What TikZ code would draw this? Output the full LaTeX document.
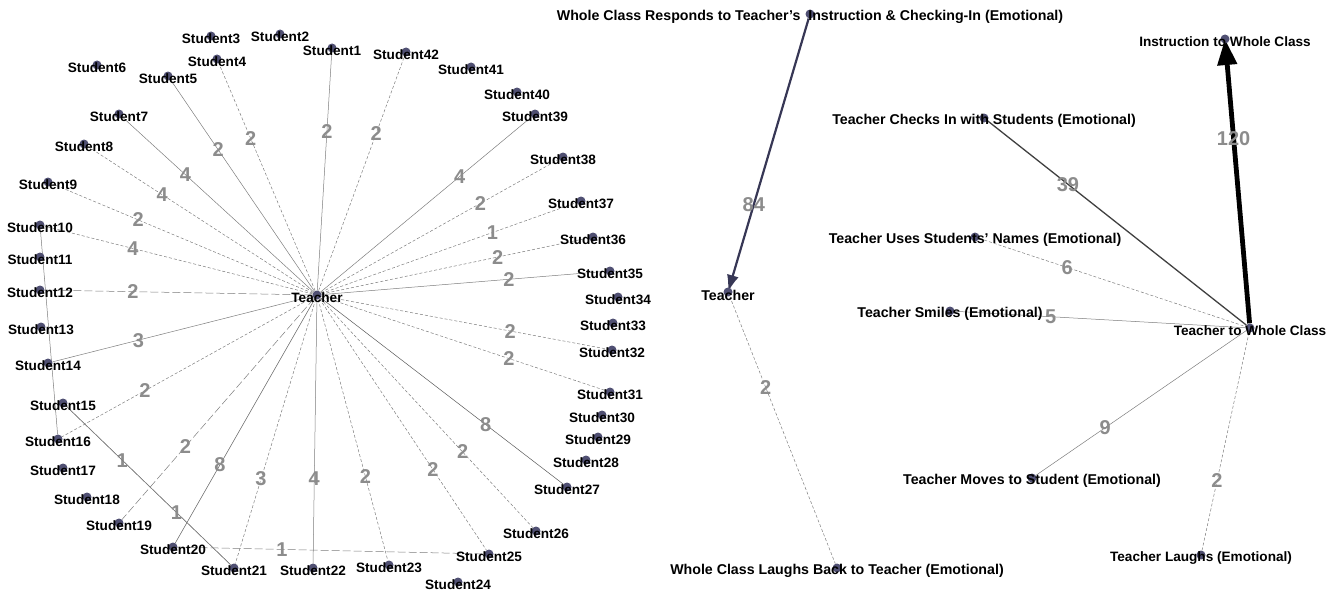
\documentclass[tikz,border=0pt]{standalone}
\usepackage{fontspec}
\setmainfont{Liberation Sans}
\usepackage{xcolor}
\usetikzlibrary{arrows.meta, backgrounds}
\definecolor{dotcol}{RGB}{80,80,115}
\definecolor{wtcol}{RGB}{140,140,140}
\definecolor{linkcol}{RGB}{125,125,125}
\definecolor{arrcol}{RGB}{55,55,85}
\tikzset{
    mydot/.style={circle,fill=dotcol,inner sep=0pt,minimum size=9pt},
    mylabel/.style={font=\fontsize{13.6}{15}\selectfont\bfseries,text=black,inner sep=0pt,yshift=-3pt},
    mybig/.style={mylabel,font=\fontsize{14.2}{16}\selectfont\bfseries},
    myweight/.style={font=\fontsize{20}{20}\selectfont\bfseries,text=wtcol,inner sep=1pt},
    mylink/.style={draw=linkcol,line width=0.5pt},
    mydash/.style={mylink,dash pattern=on 3pt off 2pt}
}

\begin{document}
\begin{tikzpicture}[x=1pt,y=-1pt]
  \useasboundingbox (0,0) rectangle (1335,594);
  % left graph: teacher and students
  \node[mydot,label={[mylabel]center:Teacher}] (t) at (317,295) {};
  \node[mydot,label={[mylabel]center:Student1}] (s1) at (332,48) {};
  \node[mydot,label={[mylabel]center:Student2}] (s2) at (280,34) {};
  \node[mydot,label={[mylabel]center:Student3}] (s3) at (211,36) {};
  \node[mydot,label={[mylabel]center:Student4}] (s4) at (217,59) {};
  \node[mydot,label={[mylabel]center:Student5}] (s5) at (168,76) {};
  \node[mydot,label={[mylabel]center:Student6}] (s6) at (97,65) {};
  \node[mydot,label={[mylabel]center:Student7}] (s7) at (119,114) {};
  \node[mydot,label={[mylabel]center:Student8}] (s8) at (84,144) {};
  \node[mydot,label={[mylabel]center:Student9}] (s9) at (48,182) {};
  \node[mydot,label={[mylabel]center:Student10}] (s10) at (40,225) {};
  \node[mydot,label={[mylabel]center:Student11}] (s11) at (40,257) {};
  \node[mydot,label={[mylabel]center:Student12}] (s12) at (40,290) {};
  \node[mydot,label={[mylabel]center:Student13}] (s13) at (41,327) {};
  \node[mydot,label={[mylabel]center:Student14}] (s14) at (48,363) {};
  \node[mydot,label={[mylabel]center:Student15}] (s15) at (63,403) {};
  \node[mydot,label={[mylabel]center:Student16}] (s16) at (58,439) {};
  \node[mydot,label={[mylabel]center:Student17}] (s17) at (63,468) {};
  \node[mydot,label={[mylabel]center:Student18}] (s18) at (87,497) {};
  \node[mydot,label={[mylabel]center:Student19}] (s19) at (119,523) {};
  \node[mydot,label={[mylabel]center:Student20}] (s20) at (173,547) {};
  \node[mydot,label={[mylabel]center:Student21}] (s21) at (234,568) {};
  \node[mydot,label={[mylabel]center:Student22}] (s22) at (313,568) {};
  \node[mydot,label={[mylabel]center:Student23}] (s23) at (389,565) {};
  \node[mydot,label={[mylabel]center:Student24}] (s24) at (458,582) {};
  \node[mydot,label={[mylabel]center:Student25}] (s25) at (489,554) {};
  \node[mydot,label={[mylabel]center:Student26}] (s26) at (536,531) {};
  \node[mydot,label={[mylabel]center:Student27}] (s27) at (567,487) {};
  \node[mydot,label={[mylabel]center:Student28}] (s28) at (586,460) {};
  \node[mydot,label={[mylabel]center:Student29}] (s29) at (598,437) {};
  \node[mydot,label={[mylabel]center:Student30}] (s30) at (602,415) {};
  \node[mydot,label={[mylabel]center:Student31}] (s31) at (610,392) {};
  \node[mydot,label={[mylabel]center:Student32}] (s32) at (612,350) {};
  \node[mydot,label={[mylabel]center:Student33}] (s33) at (613,323) {};
  \node[mydot,label={[mylabel]center:Student34}] (s34) at (618,297) {};
  \node[mydot,label={[mylabel]center:Student35}] (s35) at (610,271) {};
  \node[mydot,label={[mylabel]center:Student36}] (s36) at (593,237) {};
  \node[mydot,label={[mylabel]center:Student37}] (s37) at (581,201) {};
  \node[mydot,label={[mylabel]center:Student38}] (s38) at (563,157) {};
  \node[mydot,label={[mylabel]center:Student39}] (s39) at (535,114) {};
  \node[mydot,label={[mylabel]center:Student40}] (s40) at (517,92) {};
  \node[mydot,label={[mylabel]center:Student41}] (s41) at (471,67) {};
  \node[mydot,label={[mylabel]center:Student42}] (s42) at (406,52) {};
  % right graph
  \node[mydot,label={[mybig]center:Whole Class Responds to Teacher's\ \ Instruction \& Checking-In (Emotional)}] (wcr) at (810,14) {};
  \node[mydot,label={[mybig]center:Teacher}] (tch) at (728,292) {};
  \node[mydot,label={[mybig]center:Whole Class Laughs Back to Teacher (Emotional)}] (wcl) at (837,568) {};
  \node[mydot,label={[mybig]center:Teacher Checks In with Students (Emotional)}] (chk) at (984,118) {};
  \node[mydot,label={[mybig]center:Teacher Uses Students' Names (Emotional)}] (nam) at (975,237) {};
  \node[mydot,label={[mybig]center:Teacher Smiles (Emotional)}] (smi) at (950,311) {};
  \node[mydot,label={[mybig]center:Teacher Moves to Student (Emotional)}] (mov) at (1032,478) {};
  \node[mydot,label={[mylabel]center:Teacher Laughs (Emotional)}] (lau) at (1201,555) {};
  \node[mydot,label={[mylabel]center:Teacher to Whole Class}] (ttw) at (1250,328) {};
  \node[mydot,label={[mylabel]center:Instruction to Whole Class}] (ins) at (1225,39) {};

  \begin{scope}[on background layer]
  \draw[mylink] (t) -- node[myweight,pos=.67] {2} (s1);
  \draw[mydash] (t) -- node[myweight,pos=.67] {2} (s42);
  \draw[mydash] (t) -- node[myweight,pos=.67] {2} (s4);
  \draw[mylink] (t) -- node[myweight,pos=.67] {2} (s5);
  \draw[mylink] (t) -- node[myweight,pos=.67] {4} (s7);
  \draw[mydash] (t) -- node[myweight,pos=.67] {4} (s8);
  \draw[mydash] (t) -- node[myweight,pos=.67] {2} (s9);
  \draw[mydash] (t) -- node[myweight,pos=.67] {4} (s10);
  \draw[mylink,dash pattern=on 8pt off 3pt] (t) -- node[myweight,pos=.67] {2} (s12);
  \draw[mylink] (t) -- node[myweight,pos=.67] {3} (s14);
  \draw[mydash] (t) -- node[myweight,pos=.67] {2} (s16);
  \draw[mylink,dash pattern=on 8pt off 3pt] (t) -- node[myweight,pos=.67] {2} (s19);
  \draw[mylink,draw=black!65] (t) -- node[myweight,pos=.68] {8} (s20);
  \draw[mydash] (t) -- node[myweight,pos=.68] {3} (s21);
  \draw[mylink] (t) -- node[myweight,pos=.68] {4} (s22);
  \draw[mydash] (t) -- node[myweight,pos=.68] {2} (s23);
  \draw[mydash] (t) -- node[myweight,pos=.68] {2} (s25);
  \draw[mydash] (t) -- node[myweight,pos=.67] {2} (s26);
  \draw[mylink,draw=black!65] (t) -- node[myweight,pos=.68] {8} (s27);
  \draw[mydash] (t) -- node[myweight,pos=.66] {2} (s31);
  \draw[mydash] (t) -- node[myweight,pos=.66] {2} (s32);
  \draw[mylink] (t) -- node[myweight,pos=.66] {2} (s35);
  \draw[mydash] (t) -- node[myweight,pos=.66] {2} (s36);
  \draw[mydash] (t) -- node[myweight,pos=.67] {1} (s37);
  \draw[mydash] (t) -- node[myweight,pos=.67] {2} (s38);
  \draw[mylink] (t) -- node[myweight,pos=.66] {4} (s39);
  \draw[mylink] (s10) -- (s16);
  \draw[mylink] (s15) -- node[myweight,pos=.34] {1} (s21);
  \draw[mylink] (s21) -- node[myweight,pos=.33] {1} (s15);
  \draw[mylink,dash pattern=on 8pt off 3pt] (s20) -- node[myweight,pos=.34] {1} (s25);
  % right graph links
  \draw[mydash] (tch) -- node[myweight,pos=.34] {2} (wcl);
  \draw[mydash] (nam) -- node[myweight,pos=.33] {6} (ttw);
  \draw[mylink] (smi) -- node[myweight,pos=.33] {5} (ttw);
  \draw[mylink] (mov) -- node[myweight,pos=.33] {9} (ttw);
  \draw[mydash] (lau) -- node[myweight,pos=.32] {2} (ttw);
  \draw[draw=black!75,line width=1.3pt] (chk) -- node[myweight,pos=.31] {39} (ttw);
  \draw[arrcol,line width=2.2pt,-{Latex[length=17pt,width=12pt]}] (wcr) -- node[myweight,pos=.68] {84} (tch.center);
  \draw[black,line width=4.8pt,-{Triangle[length=26pt,width=19pt]}] (ttw) -- node[myweight,pos=.65] {120} (ins.center);
  \end{scope}
\end{tikzpicture}
\end{document}
